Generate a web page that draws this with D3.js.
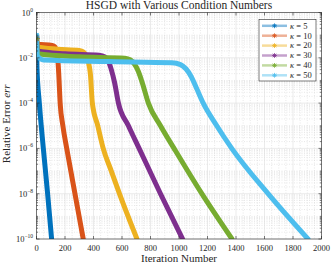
<!DOCTYPE html>
<html>
<head>
<meta charset="utf-8">
<script src="https://cdn.jsdelivr.net/npm/d3@7"></script>
<style>
  body { margin: 0; background: #fff; }
  svg text { font-family: "Liberation Serif", "DejaVu Serif", serif; fill: #262626; }
</style>
</head>
<body>
<svg id="chart" width="332" height="263"></svg>
<script>
// series: [iteration, relative error]
var kappas = [5, 10, 20, 30, 40, 50];
var colors = ['#0072BD', '#D95319', '#EDB120', '#7E2F8E', '#77AC30', '#4DBEEE'];

var k5 = [[0, 0.08], [3, 0.004], [20, 1e-4], [48, 1e-6], [78, 1e-8], [106, 1e-10]];
var k10 = [[0, 0.07], [6, 0.04], [110, 0.035], [130, 0.03], [142, 0.018], [150, 0.008], [156, 0.002],
  [166, 1e-4], [185, 1e-5], [212, 1e-6], [270, 1e-8], [328, 1e-10]];
var k20 = [[0, 0.07], [8, 0.03], [150, 0.024], [300, 0.021], [330, 0.018], [350, 0.012], [365, 0.006],
  [378, 0.002], [392, 1e-4], [430, 1e-5], [468, 1e-6], [525, 1e-7], [582, 1e-8], [705, 1e-10]];
var k30 = [[0, 0.07], [8, 0.02], [200, 0.015], [440, 0.013], [480, 0.011], [505, 0.007], [525, 0.003],
  [548, 8e-4], [575, 1e-4], [645, 1e-5], [720, 1e-6], [870, 1e-8], [1025, 1e-10]];
var k40 = [[0, 0.07], [8, 0.015], [300, 0.011], [620, 0.0095], [660, 0.008], [690, 0.005], [715, 0.0025],
  [745, 7e-4], [785, 1e-4], [870, 1e-5], [965, 1e-6], [1160, 1e-8], [1372, 1e-10]];
var k50 = [[0, 0.1], [6, 0.012], [50, 0.008], [500, 0.0068], [950, 0.006], [1010, 0.005], [1050, 0.0032],
  [1085, 0.0015], [1120, 5e-4], [1170, 1e-4], [1265, 1e-5], [1370, 1e-6], [1625, 1e-8], [1905, 1e-10]];
var series = [k5, k10, k20, k30, k40, k50];

var xTicks = [0, 200, 400, 600, 800, 1000, 1200, 1400, 1600, 1800, 2000];
var yTicks = [1, 1e-2, 1e-4, 1e-6, 1e-8, 1e-10];
var yTickExp = ['0', '\u22122', '\u22124', '\u22126', '\u22128', '\u221210'];

var svg = d3.select('#chart');
var L = 36.5, R = 321.5, T = 12.5, B = 239;
var x = d3.scaleLinear().domain([0, 2000]).range([L, R]);
var y = d3.scaleLog().domain([1e-10, 1]).range([B, T]);

// grid
var minorX = d3.range(0, 2001, 50).filter(function(v) { return v % 200 !== 0; });
var minorY = [];
for (var e = -10; e < 0; e++) {
  for (var m = 1; m < 10; m++) {
    var v = m * Math.pow(10, e);
    if (!(m === 1 && e % 2 === 0)) minorY.push(v);
  }
}
var grid = svg.append('g');
grid.selectAll('.mx').data(minorX).enter().append('line')
  .attr('x1', x).attr('x2', x).attr('y1', T).attr('y2', B)
  .attr('stroke', '#d0d0d0').attr('stroke-width', 0.5).attr('stroke-dasharray', '1,1.5');
grid.selectAll('.my').data(minorY).enter().append('line')
  .attr('x1', L).attr('x2', R).attr('y1', y).attr('y2', y)
  .attr('stroke', '#d0d0d0').attr('stroke-width', 0.5).attr('stroke-dasharray', '1,1.5');
grid.selectAll('.gx').data(xTicks).enter().append('line')
  .attr('x1', x).attr('x2', x).attr('y1', T).attr('y2', B)
  .attr('stroke', '#dedede').attr('stroke-width', 0.6);
grid.selectAll('.gy').data(yTicks).enter().append('line')
  .attr('x1', L).attr('x2', R).attr('y1', y).attr('y2', y)
  .attr('stroke', '#dedede').attr('stroke-width', 0.6);

// curves
svg.append('clipPath').attr('id', 'clip').append('rect')
  .attr('x', L).attr('y', T).attr('width', R - L).attr('height', B - T);
var line = d3.line()
  .x(function(d) { return x(d[0]); })
  .y(function(d) { return y(d[1]); })
  .curve(d3.curveMonotoneX);
var star = 'M-3,0L3,0M0,-3L0,3M-2.2,-2.2L2.2,2.2M-2.2,2.2L2.2,-2.2';

var plot = svg.append('g').attr('clip-path', 'url(#clip)');
series.forEach(function(s, i) {
  plot.append('path').datum(s)
    .attr('d', line)
    .attr('fill', 'none')
    .attr('stroke', colors[i])
    .attr('stroke-width', 5)
    .attr('stroke-linejoin', 'round')
    .attr('stroke-linecap', 'round');
});
series.forEach(function(s, i) {
  plot.append('path')
    .attr('d', star)
    .attr('transform', 'translate(' + x(s[0][0]) + ',' + y(s[0][1]) + ')')
    .attr('stroke', colors[i]).attr('stroke-width', 1).attr('fill', 'none');
});

// axes box and ticks
var ax = svg.append('g').attr('stroke', '#262626').attr('stroke-width', 0.6);
ax.append('rect').attr('x', L).attr('y', T).attr('width', R - L).attr('height', B - T).attr('fill', 'none');
xTicks.forEach(function(v) {
  ax.append('line').attr('x1', x(v)).attr('x2', x(v)).attr('y1', B).attr('y2', B - 3);
  ax.append('line').attr('x1', x(v)).attr('x2', x(v)).attr('y1', T).attr('y2', T + 3);
});
yTicks.forEach(function(v) {
  ax.append('line').attr('x1', L).attr('x2', L + 3).attr('y1', y(v)).attr('y2', y(v));
  ax.append('line').attr('x1', R).attr('x2', R - 3).attr('y1', y(v)).attr('y2', y(v));
});
minorY.forEach(function(v) {
  ax.append('line').attr('x1', L).attr('x2', L + 1.6).attr('y1', y(v)).attr('y2', y(v));
  ax.append('line').attr('x1', R).attr('x2', R - 1.6).attr('y1', y(v)).attr('y2', y(v));
});

// tick labels
svg.selectAll('.xl').data(xTicks).enter().append('text')
  .attr('x', x).attr('y', 251)
  .attr('text-anchor', 'middle').attr('font-size', 8.5)
  .text(function(d) { return d; });
yTicks.forEach(function(v, i) {
  var t = svg.append('text').attr('x', 33).attr('y', y(v) + 3)
    .attr('text-anchor', 'end').attr('font-size', 8.5);
  t.append('tspan').text('10');
  t.append('tspan').attr('dy', -4).attr('font-size', 5.5).text(yTickExp[i]);
});

// titles
svg.append('text').attr('x', (L + R) / 2).attr('y', 9)
  .attr('text-anchor', 'middle').attr('font-size', 11.5)
  .text('HSGD with Various Condition Numbers');
svg.append('text').attr('x', (L + R) / 2).attr('y', 262)
  .attr('text-anchor', 'middle').attr('font-size', 11)
  .text('Iteration Number');
var yl = svg.append('text')
  .attr('transform', 'translate(10,' + ((T + B) / 2 - 2) + ') rotate(-90)')
  .attr('text-anchor', 'middle').attr('font-size', 11);
yl.append('tspan').text('Relative Error ');
yl.append('tspan').attr('font-style', 'italic').text('err');

// legend
var lg = svg.append('g');
lg.append('rect').attr('x', 259).attr('y', 19.5).attr('width', 57).attr('height', 61.5)
  .attr('fill', '#fff').attr('stroke', '#262626').attr('stroke-width', 0.6);
kappas.forEach(function(k, i) {
  var ly = 25.8 + i * 9.9;
  lg.append('line').attr('x1', 262).attr('x2', 287).attr('y1', ly).attr('y2', ly)
    .attr('stroke', colors[i]).attr('stroke-opacity', 0.45).attr('stroke-width', 2.5);
  lg.append('path').attr('d', star).attr('transform', 'translate(274.5,' + ly + ') scale(0.8)')
    .attr('stroke', colors[i]).attr('stroke-width', 1).attr('fill', 'none');
  var t = lg.append('text').attr('x', 290).attr('y', ly + 2.8).attr('font-size', 8.5);
  t.append('tspan').attr('font-style', 'italic').text('\u03ba');
  t.append('tspan').text(' = ' + k);
});
</script>
</body>
</html>
